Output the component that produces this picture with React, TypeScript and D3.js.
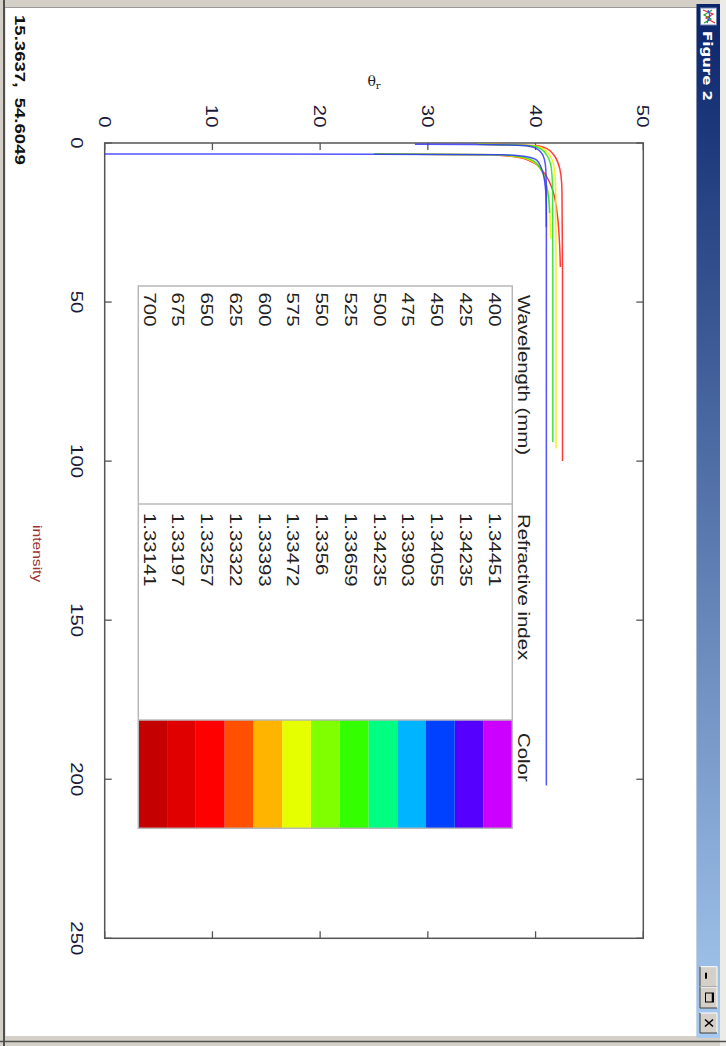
import React from 'react';
import * as d3 from 'd3';

// Unrotated figure frame (the screenshot is this frame turned 90° clockwise)
const W = 1046;
const H = 726;

const thetaTicks = [0, 10, 20, 30, 40, 50];
const intensityTicks = [0, 50, 100, 150, 200, 250];

const wavelengths = ['400', '425', '450', '475', '500', '525', '550', '575', '600', '625', '650', '675', '700'];
const refractiveIndex = ['1.34451', '1.34235', '1.34055', '1.33903', '1.34235', '1.33659', '1.3356', '1.33472', '1.33393', '1.33322', '1.33257', '1.33197', '1.33141'];
const swatchColors = ['#cc00ff', '#5500ff', '#0040ff', '#00b4ff', '#00ff80', '#33ff00', '#80ff00', '#e6ff00', '#ffb400', '#ff5000', '#ff0000', '#e00000', '#c40000'];

// curves: [intensity, theta_r]
const redA = [[0.41, 34.6], [0.6, 38.2], [0.85, 40.2], [1.7, 41.0], [3.8, 41.7], [6.4, 42.1], [10, 42.35], [15.3, 42.45], [40, 42.5], [100, 42.5]];
const yellowA = [[0.41, 34.6], [0.6, 38.0], [0.9, 39.9], [1.8, 40.7], [3.8, 41.3], [6.4, 41.65], [10, 41.8], [15, 41.87], [40, 41.9], [96, 41.9]];
const greenA = [[0.41, 34.6], [0.6, 37.8], [0.95, 39.7], [1.9, 40.5], [3.9, 41.05], [6.5, 41.38], [10, 41.52], [15, 41.58], [40, 41.6], [94, 41.6]];
const blueA = [[0.41, 28.8], [0.5, 34.0], [0.65, 37.5], [1.0, 39.4], [2.0, 40.2], [4.0, 40.7], [6.6, 40.9], [10, 40.97], [20, 41.0], [202, 41.0]];
const redB = [[3.46, 25], [3.7, 36.0], [4.6, 38.5], [6, 39.7], [9, 40.7], [14, 41.5], [22, 42.0], [30, 42.2], [39, 42.3]];
const yellowB = [[3.46, 25], [3.7, 36.3], [4.5, 38.6], [5.8, 39.7], [8.5, 40.5], [13, 41.0], [20, 41.3], [30, 41.4]];
const greenB = [[3.46, 25], [3.7, 36.5], [4.4, 38.8], [5.6, 39.8], [8.3, 40.5], [12.5, 40.95], [17, 41.2], [22, 41.3]];
const blueB = [[3.46, 0], [3.5, 25], [3.7, 37.0], [4.3, 39.2], [5.4, 40.1], [8, 40.55], [12.2, 40.85], [17.4, 40.97], [26.4, 41.0]];

const lineColors = { red: '#ff1a1a', yellow: '#f0f000', green: '#1ee01e', blue: '#3535ff' };
const series = [
  { color: lineColors.red, pts: redA },
  { color: lineColors.red, pts: redB },
  { color: lineColors.yellow, pts: yellowA },
  { color: lineColors.yellow, pts: yellowB },
  { color: lineColors.green, pts: greenA },
  { color: lineColors.green, pts: greenB },
  { color: lineColors.blue, pts: blueA },
  { color: lineColors.blue, pts: blueB },
];

const FONT = "'Liberation Sans', Arial, Helvetica, sans-serif";
const SX = 1.2;

function T({ x, y, anchor = 'start', size = 17, weight = 'normal', fill = '#111', rot = 0, family = FONT, children }: any) {
  return (
    <g transform={`translate(${x},${y}) scale(${SX},1)${rot ? ` rotate(${rot})` : ''}`}>
      <text textAnchor={anchor} fontSize={size} fontWeight={weight} fill={fill} fontFamily={family} style={{ whiteSpace: 'pre' }}>
        {children}
      </text>
    </g>
  );
}

export default function App() {
  const xS = d3.scaleLinear().domain([0, 250]).range([143, 938.3]);
  const yS = d3.scaleLinear().domain([0, 50]).range([621.3, 82.7]);
  const [x0, x1] = xS.range();
  const [y0, y1] = yS.range();
  const line = d3.line<number[]>().x(d => xS(d[0])).y(d => yS(d[1])).curve(d3.curveMonotoneX);

  // table
  const tLeft = 286, tRight = 828.3, div1 = 504, div2 = 720;
  const rows = d3.scaleBand<string>().domain(wavelengths).range([213.7, 587.7]);
  const tTop = rows.range()[0], tBot = rows.range()[1];
  const tick = 7;

  const btns = [
    { u0: 966.7, u1: 986.7, kind: 'min' },
    { u0: 987, u1: 1008, kind: 'max' },
    { u0: 1013, u1: 1033, kind: 'close' },
  ];

  return (
    <>
      <style>{`html,body{margin:0;padding:0;background:#fff}`}</style>
      <svg width={H} height={W} style={{ position: 'absolute', left: 0, top: 0, display: 'block' }}>
        <defs>
          <linearGradient id="tb" x1="0" x2="1" y1="0" y2="0">
            <stop offset="0" stopColor="#0a246a" />
            <stop offset="1" stopColor="#a6caf0" />
          </linearGradient>
        </defs>
        <g transform={`translate(${H},0) rotate(90)`}>
          {/* window frame */}
          <rect x={0} y={0} width={W} height={H} fill="#d4d0c8" />
          <rect x={0} y={0} width={W} height={6} fill="#ecebe6" />
          <rect x={8} y={29.5} width={1028} height={691} fill="#ffffff" />
          <line x1={7.5} y1={29} x2={7.5} y2={721} stroke="#9a9a9a" strokeWidth={1} />
          <line x1={0} y1={722} x2={W} y2={722} stroke="#505050" strokeWidth={2} />
          <line x1={1041.5} y1={0} x2={1041.5} y2={H} stroke="#505050" strokeWidth={1.5} />
          {/* title bar */}
          <rect x={4} y={6} width={1034} height={23.5} fill="url(#tb)" />
          <g>
            <rect x={8} y={9.5} width={17} height={16} fill="#ffffff" stroke="#6a7fb0" strokeWidth={1} />
            <path d="M10,23 L14,13 L18,20 L23,11" fill="none" stroke="#e03030" strokeWidth={1.2} />
            <path d="M10,14 L15,22 L19,15 L23,22" fill="none" stroke="#30a030" strokeWidth={1.2} />
            <path d="M10,18 L16,16 L23,19" fill="none" stroke="#3050e0" strokeWidth={1.2} />
          </g>
          <T x={31} y={23} size={12.5} weight="bold" fill="#ffffff" family="'DejaVu Sans', Tahoma, sans-serif">Figure 2</T>
          {btns.map((b, i) => {
            const c = (b.u0 + b.u1) / 2;
            return (
              <g key={i}>
                <rect x={b.u0} y={9} width={b.u1 - b.u0} height={17} fill="#d4d0c8" />
                <path d={`M${b.u0},26 L${b.u0},9 L${b.u1},9`} fill="none" stroke="#ffffff" strokeWidth={1} />
                <path d={`M${b.u0},26 L${b.u1},26 L${b.u1},9`} fill="none" stroke="#404040" strokeWidth={1} />
                {b.kind === 'min' && <rect x={c - 4} y={19} width={6} height={2} fill="#000" />}
                {b.kind === 'max' && (
                  <g>
                    <rect x={c - 4.5} y={12.5} width={9} height={8} fill="none" stroke="#000" strokeWidth={1} />
                    <line x1={c - 4.5} y1={13.5} x2={c + 4.5} y2={13.5} stroke="#000" strokeWidth={1.5} />
                  </g>
                )}
                {b.kind === 'close' && (
                  <path d={`M${c - 3.5},13 L${c + 3.5},21 M${c + 3.5},13 L${c - 3.5},21`} stroke="#000" strokeWidth={1.6} />
                )}
              </g>
            );
          })}

          {/* axes box */}
          <rect x={x0} y={y1} width={x1 - x0} height={y0 - y1} fill="#ffffff" stroke="#555" strokeWidth={1.5} />
          {thetaTicks.map(t => (
            <g key={'ty' + t}>
              <line x1={x0} x2={x0 + tick} y1={yS(t)} y2={yS(t)} stroke="#555" strokeWidth={1.3} />
              <line x1={x1} x2={x1 - tick} y1={yS(t)} y2={yS(t)} stroke="#555" strokeWidth={1.3} />
              <T x={127.5} y={yS(t) + 6} anchor="end" fill="#1a1a3a">{String(t)}</T>
            </g>
          ))}
          {intensityTicks.map(t => (
            <g key={'tx' + t}>
              <line x1={xS(t)} x2={xS(t)} y1={y0} y2={y0 - tick} stroke="#555" strokeWidth={1.3} />
              <line x1={xS(t)} x2={xS(t)} y1={y1} y2={y1 + tick} stroke="#555" strokeWidth={1.3} />
              <T x={xS(t)} y={655.5} anchor="middle" fill="#1a1a3a">{String(t)}</T>
            </g>
          ))}

          {/* curves */}
          {series.map((s, i) => (
            <path key={i} d={line(s.pts) || ''} fill="none" stroke={s.color} strokeWidth={1.5} strokeOpacity={0.85} />
          ))}

          {/* table */}
          {swatchColors.map((c, i) => (
            <rect key={'sw' + i} x={div2} y={rows(wavelengths[i])} width={tRight - div2} height={rows.bandwidth()} fill={c} />
          ))}
          <rect x={tLeft} y={tTop} width={tRight - tLeft} height={tBot - tTop} fill="none" stroke="#b8b8b8" strokeWidth={1.5} />
          <line x1={div1} x2={div1} y1={tTop} y2={tBot} stroke="#b8b8b8" strokeWidth={1.5} />
          <line x1={div2} x2={div2} y1={tTop} y2={tBot} stroke="#b8b8b8" strokeWidth={1.5} />
          <T x={295} y={208.5} fill="#222">Wavelength (mm)</T>
          <T x={514} y={208.5} fill="#222">Refractive index</T>
          <T x={733} y={208.5} fill="#222">Color</T>
          {wavelengths.map((w, i) => (
            <g key={'r' + i}>
              <T x={292.5} y={(rows(w) as number) + 23.5} fill="#222">{w}</T>
              <T x={513} y={(rows(w) as number) + 23.5} fill="#222">{refractiveIndex[i]}</T>
            </g>
          ))}

          {/* axis labels */}
          <T x={(x0 + x1) / 2 + 13} y={693} anchor="middle" size={13} fill="#a03030">intensity</T>
          <g transform={`translate(86,${(y0 + y1) / 2}) rotate(-90)`}>
            <text textAnchor="middle" fontSize={14} fill="#222" fontFamily="'DejaVu Serif', serif">
              θ<tspan fontSize={10} dy={3}>r</tspan>
            </text>
          </g>

          {/* status text */}
          <T x={15} y={711} size={15.5} weight="bold" fill="#111">{'15.3637,  54.6049'}</T>
        </g>
      </svg>
    </>
  );
}
